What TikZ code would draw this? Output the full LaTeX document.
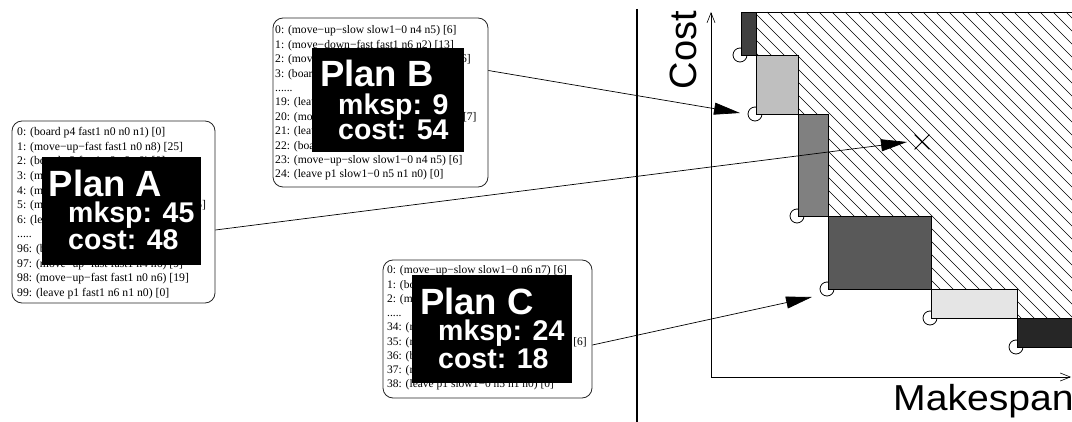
\documentclass[tikz,border=0pt]{standalone}
\usepackage{fontspec}
\setmainfont{Liberation Serif}
\newfontfamily\hv{Liberation Sans}
\usetikzlibrary{arrows.meta,shapes.misc}
\definecolor{gA}{HTML}{404040}
\definecolor{gB}{HTML}{BFBFBF}
\definecolor{gC}{HTML}{808080}
\definecolor{gD}{HTML}{595959}
\definecolor{gE}{HTML}{E5E5E5}
\definecolor{gF}{HTML}{262626}
\newcommand\myfivedots{.....}
\newcommand\mysixdots{......}
\begin{document}
\begin{tikzpicture}[x=1pt,y=-1pt,
  planbox/.style={draw=black!85, line width=0.8pt, rounded corners=10pt, minimum width=#1, inner sep=0pt},
  listA/.style={font=\fontsize{11.7}{13}\selectfont, anchor=base west, inner sep=0pt},
  listB/.style={font=\fontsize{11.6}{13}\selectfont, anchor=base west, inner sep=0pt},
  listC/.style={font=\fontsize{11.5}{13}\selectfont, anchor=base west, inner sep=0pt},
  blk/.style={fill=black, draw=none, anchor=north west, inner sep=0pt},
  ttl/.style={text=white, font=\hv\bfseries\fontsize{36.5}{40}\selectfont, anchor=base west, inner sep=0pt},
  sub/.style={text=white, font=\hv\bfseries\fontsize{28.5}{32}\selectfont, anchor=base west, inner sep=0pt},
  conn/.style={line width=0.7pt, -{Triangle[length=26pt,width=12pt]}},
  axis/.style={line width=0.8pt, -{Straight Barb[length=10pt,width=8pt,line width=0.6pt]}},
  bar/.style={draw=black, line width=0.8pt},
  dot/.style={circle, draw=black, fill=white, line width=0.8pt, minimum size=14pt, inner sep=0pt},
  hatch/.style={line width=0.6pt, black},
  axlabel/.style={font=\hv\fontsize{38}{40}\selectfont, inner sep=0pt}
]
\useasboundingbox (0,0) rectangle (1072,422);

% ---------- Plan boxes ----------
\node[planbox=203pt, minimum height=182pt] (boxA) at (113.5,212) {};
\node[planbox=215pt, minimum height=169pt] (boxB) at (380.5,102.5) {};
\node[planbox=209pt, minimum height=138pt] (boxC) at (487.5,329) {};

% Plan A listing
\foreach \lineText [count=\i from 0] in {
  {0: (board p4 fast1 n0 n0 n1) [0]},
  {1: (move−up−fast fast1 n0 n8) [25]},
  {2: (board p2 fast1 n8 n8 n9) [0]},
  {3: (move−up−fast fast1 n8 n9) [3]},
  {4: (move−down−fast fast1 n9 n3) [13]},
  {5: (move−up−slow slow1−0 n3 n4) [16]},
  {6: (leave p4 slow1−0 n2 n1 n2) [0]},
  {\myfivedots},
  {96: (board p1 fast1 n4 n4 n5) [0]},
  {97: (move−up−fast fast1 n4 n6) [9]},
  {98: (move−up−fast fast1 n0 n6) [19]},
  {99: (leave p1 fast1 n6 n1 n0) [0]}}
  \node[listA] (la\i) at (17,{135.7+14.6*\i}) {\lineText};

% Plan B listing
\foreach \lineText [count=\i from 0] in {
  {0: (move−up−slow slow1−0 n4 n5) [6]},
  {1: (move−down−fast fast1 n6 n2) [13]},
  {2: (move−down−slow slow1−0 n5 n1) [6]},
  {3: (board p1 slow1−0 n1 n1 n2) [0]},
  {\mysixdots},
  {19: (leave p2 fast1 n2 n2 n3) [0]},
  {20: (move−down−slow slow1−0 n3 n2) [7]},
  {21: (leave p3 slow1−0 n2 n1 n2) [0]},
  {22: (board p1 slow1−0 n4 n4 n5) [0]},
  {23: (move−up−slow slow1−0 n4 n5) [6]},
  {24: (leave p1 slow1−0 n5 n1 n0) [0]}}
  \node[listB] (lb\i) at (275,{34+14.4*\i}) {\lineText};

% Plan C listing
\foreach \lineText [count=\i from 0] in {
  {0: (move−up−slow slow1−0 n6 n7) [6]},
  {1: (board p1 slow1−0 n7 n7 n6) [0]},
  {2: (move−up−slow slow1−0 n7 n8) [6]},
  {\myfivedots},
  {34: (move−up−slow slow1−0 n3 n4) [6]},
  {35: (move−down−slow slow1−0 n4 n5) [6]},
  {36: (board p1 slow1−0 n5 n5 n6) [0]},
  {37: (move−up−slow slow1−0 n5 n6) [6]},
  {38: (leave p1 slow1−0 n5 n1 n0) [0]}}
  \node[listC] (lc\i) at (387,{274+14.2*\i}) {\lineText};

% Black label boxes
\node[blk, minimum width=159pt, minimum height=108pt] (bA) at (42,157) {};
\node[ttl] (tA) at ([shift={(6.5,40)}]bA.north west) {Plan A};
\node[sub] (mA) at ([shift={(26,66)}]bA.north west) {mksp: 45};
\node[sub] (cA) at ([shift={(26,93)}]bA.north west) {cost: 48};

\node[blk, minimum width=152pt, minimum height=104pt] (bB) at (312,48) {};
\node[ttl] (tB) at ([shift={(8,39)}]bB.north west) {Plan B};
\node[sub] (mB) at ([shift={(26,67)}]bB.north west) {mksp: 9};
\node[sub] (cB) at ([shift={(26,92)}]bB.north west) {cost: 54};

\node[blk, minimum width=160pt, minimum height=108pt] (bC) at (412,275) {};
\node[ttl] (tC) at ([shift={(8,40)}]bC.north west) {Plan C};
\node[sub] (mC) at ([shift={(26,66)}]bC.north west) {mksp: 24};
\node[sub] (cC) at ([shift={(26,93)}]bC.north west) {cost: 18};

% ---------- Separator ----------
\coordinate (sepT) at (637,9);
\coordinate (sepB) at (637,422);
\draw[line width=2.2pt] (sepT) -- (sepB);

% ---------- Chart ----------
\begin{scope}
  \clip (756,12) -- (1072,12) -- (1072,318) -- (1017,318) -- (1017,289) -- (931,289)
        -- (931,216) -- (828,216) -- (828,114) -- (798,114) -- (798,55) -- (756,55) -- cycle;
  \foreach \k in {-30,...,30}
    \draw[hatch] ({741+13*\k},12) -- ++(420,420);
\end{scope}
\draw[line width=0.8pt] (741,12) -- (1072,12);

% circles (behind bars)
\node[dot] (d1) at (740,55) {};
\node[dot] (d2) at (755,114) {};
\node[dot] (d3) at (797,216) {};
\node[dot] (d4) at (827,289) {};
\node[dot] (d5) at (930,318) {};
\node[dot] (d6) at (1016,347) {};

% bars
\draw[bar, fill=gA] (741,12) rectangle (756,55);
\draw[bar, fill=gB] (756,55) rectangle (798,114);
\draw[bar, fill=gC] (798,114) rectangle (828,216);
\draw[bar, fill=gD] (828,216) rectangle (931,289);
\draw[bar, fill=gE] (931,289) rectangle (1017,318);
\draw[bar, fill=gF] (1017,318) rectangle (1085,347);

% axes
\coordinate (O) at (711,377);
\coordinate (Ytop) at (711,12);
\coordinate (Xend) at (1071,377);
\draw[axis] (O) -- (Ytop);
\draw[axis] (O) -- (Xend);
\node[axlabel, anchor=base west] (xl) at (893,410) {\scalebox{1.03}[0.95]{Makespan}};
\node[axlabel, rotate=90] (yl) at (683,50) {Cost};

% X mark
\node[cross out, draw=black, line width=0.8pt, minimum size=14pt, inner sep=0pt] (xm) at (922,142) {};

% ---------- Connectors ----------
\coordinate (tipA) at (907,142);
\coordinate (tipB) at (740,113);
\coordinate (tipC) at (812,297);
\draw[conn] ([yshift=-18pt]boxA.east) -- (tipA);
\draw[conn] ([yshift=32pt]boxB.east) -- (tipB);
\draw[conn] ([yshift=-16pt]boxC.east) -- (tipC);
\end{tikzpicture}
\end{document}
